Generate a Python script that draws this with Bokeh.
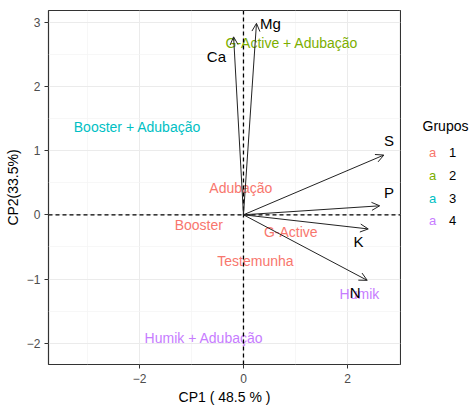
from bokeh.plotting import figure
from bokeh.layouts import row
from bokeh.models import ColumnDataSource, Arrow, OpenHead, Span, FixedTicker, Range1d
from bokeh.core.properties import value
from bokeh.embed import file_html
from bokeh.resources import INLINE

# ---- data ----
variables = ["Ca", "Mg", "S", "P", "K", "N"]
var_x = [-0.19, 0.25, 2.70, 2.62, 2.40, 2.38]
var_y = [2.77, 2.98, 0.93, 0.14, -0.22, -1.02]
var_label_x = [-0.52, 0.52, 2.80, 2.80, 2.21, 2.15]
var_label_y = [2.47, 2.98, 1.16, 0.35, -0.41, -1.21]

treatments = ["Adubação", "Booster", "G-Active", "Testemunha",
              "G-Active + Adubação", "Booster + Adubação",
              "Humik", "Humik + Adubação"]
treat_x = [-0.05, -0.86, 0.91, 0.23, 0.93, -2.04, 2.23, -0.76]
treat_y = [0.41, -0.16, -0.27, -0.72, 2.68, 1.36, -1.24, -1.91]
treat_group = ["1", "1", "1", "1", "2", "3", "4", "4"]

groups = ["1", "2", "3", "4"]
group_colors = ["#F8766D", "#7CAE00", "#00BFC4", "#C77CFF"]
legend_title = "Grupos"

x_ticks = [-2, 0, 2]
x_minor = [-3, -1, 1, 3]
y_ticks = [-2, -1, 0, 1, 2, 3]
y_minor = [-2.5, -1.5, -0.5, 0.5, 1.5, 2.5]

FONT = "Liberation Sans"
cmap = dict(zip(groups, group_colors))

p = figure(width=401, height=407, output_backend="svg", toolbar_location=None,
           x_range=Range1d(-3.75, 3.02), y_range=Range1d(-2.33, 3.18),
           min_border_left=48, min_border_right=1, min_border_top=10, min_border_bottom=43,
           background_fill_color="white", border_fill_color="white")

p.outline_line_color = "#333333"
p.outline_line_width = 1.2

p.xaxis.ticker = FixedTicker(ticks=x_ticks, minor_ticks=x_minor)
p.yaxis.ticker = FixedTicker(ticks=y_ticks, minor_ticks=y_minor)
p.xaxis.axis_label = "CP1 ( 48.5 % )"
p.yaxis.axis_label = "CP2(33.5%)"
for ax in (p.xaxis, p.yaxis):
    ax.axis_line_color = None
    ax.major_tick_line_color = "#333333"
    ax.major_tick_out = 4
    ax.major_tick_in = 0
    ax.minor_tick_line_color = None
    ax.major_label_text_font = FONT
    ax.major_label_text_font_size = "12px"
    ax.major_label_text_color = "#4D4D4D"
    ax.axis_label_text_font = FONT
    ax.axis_label_text_font_size = "14px"
    ax.axis_label_text_font_style = "normal"
    ax.axis_label_text_color = "black"
p.xaxis.major_label_standoff = 5
p.xaxis.axis_label_standoff = 3
p.yaxis.major_label_standoff = 4
p.yaxis.axis_label_standoff = 3

for g in (p.xgrid, p.ygrid):
    g.grid_line_color = "#EBEBEB"
    g.grid_line_width = 1
    g.minor_grid_line_color = "#F3F3F3"
    g.minor_grid_line_width = 0.7

p.add_layout(Span(location=0, dimension="height", line_color="black",
                  line_dash="4 3", line_width=1.3))
p.add_layout(Span(location=0, dimension="width", line_color="black",
                  line_dash="4 3", line_width=1.3))

# treatment labels
tsrc = ColumnDataSource(dict(x=treat_x, y=treat_y, t=treatments,
                             c=[cmap[g] for g in treat_group]))
p.text(x="x", y="y", text="t", source=tsrc, text_color="c",
       text_font=value(FONT), text_font_size="14px",
       text_align="center", text_baseline="middle")

# arrows
asrc = ColumnDataSource(dict(x0=[0] * len(var_x), y0=[0] * len(var_y),
                             x1=var_x, y1=var_y))
p.add_layout(Arrow(end=OpenHead(size=8, line_color="#222222", line_width=1),
                   x_start="x0", y_start="y0", x_end="x1", y_end="y1",
                   source=asrc, line_color="#222222", line_width=1))

vsrc = ColumnDataSource(dict(x=var_label_x, y=var_label_y, t=variables))
p.text(x="x", y="y", text="t", source=vsrc, text_color="black",
       text_font=value(FONT), text_font_size="15px",
       text_align="center", text_baseline="middle")

# legend panel (separate figure, pixel-like coordinates)
lg = figure(width=68, height=407, output_backend="svg", toolbar_location=None,
            x_range=Range1d(401, 469), y_range=Range1d(407, 0),
            x_axis_type=None, y_axis_type=None, min_border=0,
            outline_line_color=None, background_fill_color="white",
            border_fill_color="white")
lg.grid.visible = False
lg.text(x=[445], y=[133], text=[legend_title], text_color="black",
        text_font=value(FONT), text_font_size="14px",
        text_align="center", text_baseline="middle")
leg_rows = [163, 190, 216, 242]
lg.text(x=[432] * len(groups), y=leg_rows, text=["a"] * len(groups),
        text_color=group_colors, text_font=value(FONT), text_font_size="13px",
        text_align="center", text_baseline="middle")
lg.text(x=[452] * len(groups), y=leg_rows, text=groups, text_color="black",
        text_font=value(FONT), text_font_size="13px",
        text_align="center", text_baseline="middle")

layout = row(p, lg, spacing=0)
open("out.html", "w").write(file_html(layout, INLINE))
